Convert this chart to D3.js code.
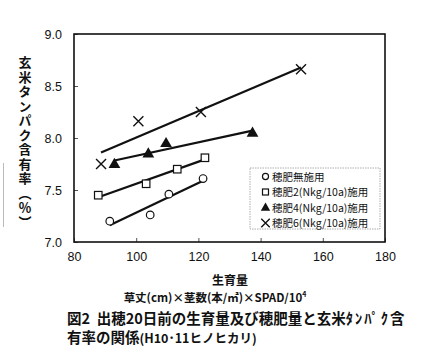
<!DOCTYPE html>
<html>
<head>
<meta charset="utf-8">
<script src="https://cdn.jsdelivr.net/npm/d3@7"></script>
<style>
  body { margin: 0; background: #fff; }
  svg { display: block; }
  text { font-family: "Liberation Sans", Arial, sans-serif; fill: #111; }
  .jp { font-family: "Noto Sans CJK JP", sans-serif; }
</style>
</head>
<body>
<div id="chart"></div>
<script>
// series names (legend)
var seriesNames = ['穂肥無施用', '穂肥2(Nkg/10a)施用', '穂肥4(Nkg/10a)施用', '穂肥6(Nkg/10a)施用'];
var seriesSymbols = ['circle', 'square', 'triangle', 'cross'];

// growth amount (x) and brown rice protein content (y) per series
var x0 = [91.5, 104.5, 110.5, 121.5];
var y0 = [7.20, 7.26, 7.46, 7.61];
var x2 = [87.8, 103.2, 113.2, 122.1];
var y2 = [7.45, 7.56, 7.70, 7.81];
var x4 = [93.0, 103.9, 109.6, 137.4];
var y4 = [7.75, 7.85, 7.95, 8.05];
var x6 = [88.7, 100.7, 120.8, 153.0];
var y6 = [7.75, 8.16, 8.25, 8.66];

var xTicks = [80, 100, 120, 140, 160, 180];
var yTicks = [7.0, 7.5, 8.0, 8.5, 9.0];

var seriesX = [x0, x2, x4, x6];
var seriesY = [y0, y2, y4, y6];

var width = 432, height = 353;
var svg = d3.select('#chart').append('svg')
    .attr('width', width)
    .attr('height', height);

var pLeft = 74, pRight = 385, pTop = 34, pBottom = 242;

var x = d3.scaleLinear().domain([80, 180]).range([pLeft, pRight]);
var y = d3.scaleLinear().domain([7.0, 9.0]).range([pBottom, pTop]);

// axes
svg.append('g')
    .attr('transform', 'translate(0,' + pBottom + ')')
    .call(d3.axisBottom(x).tickValues(xTicks).tickSizeInner(-4).tickSizeOuter(0).tickPadding(10))
    .call(function(g) {
        g.select('.domain').remove();
        g.selectAll('line').attr('stroke', '#555');
        g.selectAll('text').style('font-size', '12.5px').attr('fill', '#111');
    });

svg.append('g')
    .attr('transform', 'translate(' + pLeft + ',0)')
    .call(d3.axisLeft(y).tickValues(yTicks).tickFormat(d3.format('.1f')).tickSizeInner(-4).tickSizeOuter(0).tickPadding(12))
    .call(function(g) {
        g.select('.domain').remove();
        g.selectAll('line').attr('stroke', '#555');
        g.selectAll('text').style('font-size', '12.5px').attr('fill', '#111');
    });

// frame
svg.append('rect')
    .attr('x', pLeft).attr('y', pTop)
    .attr('width', pRight - pLeft).attr('height', pBottom - pTop)
    .attr('fill', 'none')
    .attr('stroke', '#111')
    .attr('stroke-width', 1.6);

// trend lines (least squares)
function fit(xs, ys) {
    var mx = d3.mean(xs), my = d3.mean(ys);
    var sxy = d3.sum(xs, function(v, i) { return (v - mx) * (ys[i] - my); });
    var sxx = d3.sum(xs, function(v) { return (v - mx) * (v - mx); });
    var b = sxy / sxx;
    return function(v) { return my + b * (v - mx); };
}

seriesX.forEach(function(xs, s) {
    var f = fit(xs, seriesY[s]);
    var xa = d3.min(xs), xb = d3.max(xs);
    svg.append('line')
        .attr('x1', x(xa)).attr('y1', y(f(xa)))
        .attr('x2', x(xb)).attr('y2', y(f(xb)))
        .attr('stroke', '#111')
        .attr('stroke-width', 2.2);
});

// markers
function drawMarker(g, type, cx, cy, scale) {
    scale = scale || 1;
    if (type === 'circle') {
        g.append('circle').attr('cx', cx).attr('cy', cy).attr('r', 3.8 * scale)
            .attr('fill', '#fff').attr('stroke', '#111').attr('stroke-width', 1.2);
    } else if (type === 'square') {
        var s = 7.5 * scale;
        g.append('rect').attr('x', cx - s / 2).attr('y', cy - s / 2).attr('width', s).attr('height', s)
            .attr('fill', '#fff').attr('stroke', '#111').attr('stroke-width', 1.2);
    } else if (type === 'triangle') {
        g.append('path')
            .attr('d', d3.symbol().type(d3.symbolTriangle).size(60 * scale * scale)())
            .attr('transform', 'translate(' + cx + ',' + (cy + 0.5) + ')')
            .attr('fill', '#111');
    } else {
        var r = 5 * scale;
        g.append('path')
            .attr('d', 'M' + (cx - r) + ',' + (cy - r) + 'L' + (cx + r) + ',' + (cy + r) +
                       'M' + (cx - r) + ',' + (cy + r) + 'L' + (cx + r) + ',' + (cy - r))
            .attr('stroke', '#111').attr('stroke-width', 1.4).attr('fill', 'none');
    }
}

var marks = svg.append('g');
seriesX.forEach(function(xs, s) {
    xs.forEach(function(v, i) {
        drawMarker(marks, seriesSymbols[s], x(v), y(seriesY[s][i]));
    });
});

// legend
var legend = svg.append('g');
legend.append('rect')
    .attr('x', 250).attr('y', 168)
    .attr('width', 130).attr('height', 61)
    .attr('fill', '#fff')
    .attr('stroke', '#999')
    .attr('stroke-width', 0.8)
    .attr('stroke-dasharray', '1.5,1');

seriesNames.forEach(function(name, i) {
    var ly = 176.5 + i * 15.5;
    drawMarker(legend, seriesSymbols[i], 265.5, ly, i === 3 ? 0.85 : 0.8);
    legend.append('text')
        .attr('class', 'jp')
        .attr('x', 272).attr('y', ly + 4)
        .style('font-size', '10.5px')
        .text(name);
});

// y axis title (vertical)
svg.append('text')
    .attr('class', 'jp')
    .attr('x', 25).attr('y', 56)
    .style('writing-mode', 'vertical-rl')
    .style('font-size', '13px')
    .style('font-weight', 'bold')
    .style('letter-spacing', '1.5px')
    .text('玄米タンパク含有率（％）');

// scan artifact line
svg.append('line')
    .attr('x1', 3.5).attr('y1', 163).attr('x2', 3.5).attr('y2', 227)
    .attr('stroke', '#bbb').attr('stroke-width', 1);

// x axis titles
svg.append('text')
    .attr('class', 'jp')
    .attr('x', 230).attr('y', 285)
    .attr('text-anchor', 'middle')
    .style('font-size', '12px')
    .style('font-weight', 'bold')
    .text('生育量');

var sub = svg.append('text')
    .attr('class', 'jp')
    .attr('x', 215).attr('y', 302)
    .attr('text-anchor', 'middle')
    .style('font-size', '11.5px')
    .style('font-weight', 'bold');
sub.append('tspan').text('草丈(cm)×茎数(本/㎡)×SPAD/10');
sub.append('tspan').attr('dy', -5).style('font-size', '7px').text('4');

// caption
var cap1 = svg.append('text')
    .attr('class', 'jp')
    .attr('x', 67).attr('y', 324)
    .style('font-size', '14.5px')
    .style('font-weight', 'bold')
    .style('white-space', 'pre');
cap1.append('tspan').text('図2  出穂20日前の生育量及び穂肥量と玄米');
cap1.append('tspan').style('letter-spacing', '2px').text('ﾀﾝﾊﾟｸ');
cap1.append('tspan').text('含');

var cap2 = svg.append('text')
    .attr('class', 'jp')
    .attr('x', 67).attr('y', 343)
    .style('font-size', '14.5px')
    .style('font-weight', 'bold');
cap2.append('tspan').text('有率の関係');
cap2.append('tspan').style('font-size', '12.5px').text('(H10･11ヒノヒカリ)');
</script>
</body>
</html>
